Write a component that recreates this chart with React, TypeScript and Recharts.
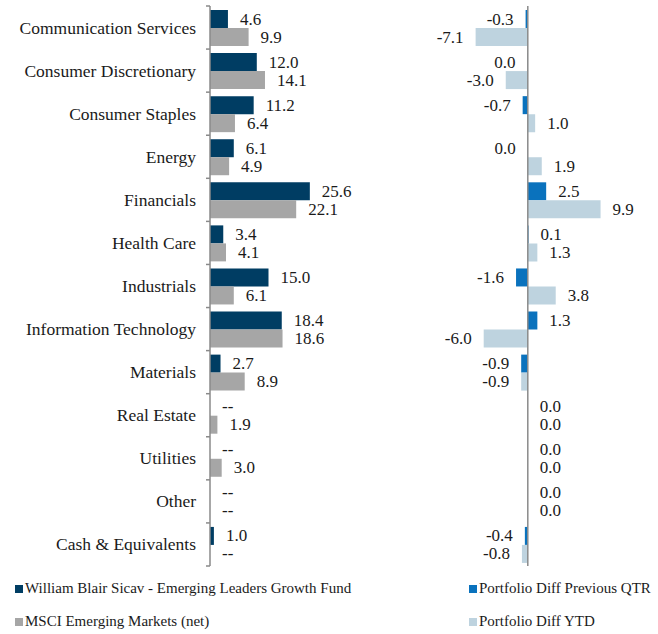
import React from 'react';
import { BarChart, Bar, XAxis, YAxis, LabelList, ReferenceLine } from 'recharts';

const categories = [
  'Communication Services',
  'Consumer Discretionary',
  'Consumer Staples',
  'Energy',
  'Financials',
  'Health Care',
  'Industrials',
  'Information Technology',
  'Materials',
  'Real Estate',
  'Utilities',
  'Other',
  'Cash & Equivalents',
];

// sector weights (%)
const fundWeights: (number | null)[] = [4.6, 12.0, 11.2, 6.1, 25.6, 3.4, 15.0, 18.4, 2.7, null, null, null, 1.0];
const indexWeights: (number | null)[] = [9.9, 14.1, 6.4, 4.9, 22.1, 4.1, 6.1, 18.6, 8.9, 1.9, 3.0, null, null];

// portfolio differences (tiny negatives print as 0.0 on the left side)
const diffQtr = [-0.3, -0.04, -0.7, -0.02, 2.5, 0.1, -1.6, 1.3, -0.9, 0.0, 0.0, 0.0, -0.4];
const diffYtd = [-7.1, -3.0, 1.0, 1.9, 9.9, 1.3, 3.8, -6.0, -0.9, 0.0, 0.0, 0.0, -0.8];

const seriesNames = [
  'William Blair Sicav - Emerging Leaders Growth Fund',
  'MSCI Emerging Markets (net)',
  'Portfolio Diff Previous QTR',
  'Portfolio Diff YTD',
];

const FONT = '"Liberation Serif", "Times New Roman", serif';
const TEXT = '#1a1a1a';
const AXIS = '#8a8a8a';
const NAVY = '#003d63';
const GREY = '#a6a6a6';
const BLUE = '#0a72bd';
const PALE = '#bed3df';

const CHART_H = 580;
const M_TOP = 6;
const M_BOTTOM = 14;
const BAND = (CHART_H - M_TOP - M_BOTTOM) / categories.length;

const LEFT_W = 400;
const LEFT_AXIS = 210;
const LEFT_RIGHT_M = 73;

const RIGHT_W = 258;
const RIGHT_LEFT_M = 69;
const RIGHT_RIGHT_M = 42;
const DIFF_MIN = -8;
const DIFF_MAX = 12;
const ZERO_OFFSET = ((RIGHT_W - RIGHT_LEFT_M - RIGHT_RIGHT_M) * (0 - DIFF_MIN)) / (DIFF_MAX - DIFF_MIN);

const fmt = (v: number) => (Math.abs(v) < 0.05 ? '0.0' : v.toFixed(1));

const leftRows = categories.map((name, i) => ({
  name,
  fund: fundWeights[i] ?? 0,
  fundLabel: fundWeights[i] == null ? '--' : fmt(fundWeights[i] as number),
  index: indexWeights[i] ?? 0,
  indexLabel: indexWeights[i] == null ? '--' : fmt(indexWeights[i] as number),
}));

const rightRows = categories.map((name, i) => ({
  name,
  qtr: diffQtr[i],
  ytd: diffYtd[i],
}));

const CategoryTick = (props: any) => {
  const { x, y, payload, index } = props;
  const top = y - BAND / 2;
  const bottom = y + BAND / 2;
  return (
    <g>
      <text x={x - 14} y={y} textAnchor="end" dominantBaseline="central" fontFamily={FONT} fontSize={17.5} fill={TEXT}>
        {payload.value}
      </text>
      <line x1={x - 4} x2={x} y1={top} y2={top} stroke={AXIS} strokeWidth={1.5} />
      {index === categories.length - 1 && (
        <line x1={x - 4} x2={x} y1={bottom} y2={bottom} stroke={AXIS} strokeWidth={1.5} />
      )}
    </g>
  );
};

const DiffTick = (props: any) => {
  const { x, y, index } = props;
  const zx = x + ZERO_OFFSET;
  const top = y - BAND / 2;
  const bottom = y + BAND / 2;
  return (
    <g>
      <line x1={zx - 4} x2={zx} y1={top} y2={top} stroke={AXIS} strokeWidth={1.5} />
      {index === categories.length - 1 && (
        <line x1={zx - 4} x2={zx} y1={bottom} y2={bottom} stroke={AXIS} strokeWidth={1.5} />
      )}
    </g>
  );
};

const WeightLabel = (props: any) => {
  const { x, y, width, height, value } = props;
  return (
    <text x={x + width + 12} y={y + height / 2} dominantBaseline="central" fontFamily={FONT} fontSize={17} fill={TEXT}>
      {value}
    </text>
  );
};

const DiffLabel = (props: any) => {
  const { x, y, width, height, value } = props;
  const v = Number(value);
  const lo = Math.min(x, x + width);
  const hi = Math.max(x, x + width);
  const neg = v < 0;
  return (
    <text
      x={neg ? lo - 12 : hi + 12}
      y={y + height / 2}
      textAnchor={neg ? 'end' : 'start'}
      dominantBaseline="central"
      fontFamily={FONT}
      fontSize={17}
      fill={TEXT}
    >
      {fmt(v)}
    </text>
  );
};

const LegendItem = ({ color, label, left, top }: { color: string; label: string; left: number; top: number }) => (
  <div style={{ position: 'absolute', left, top, display: 'flex', alignItems: 'center', fontFamily: FONT, fontSize: 15, color: TEXT, whiteSpace: 'nowrap' }}>
    <span style={{ display: 'inline-block', width: 8, height: 8, background: color, marginRight: 2 }} />
    {label}
  </div>
);

export default function App() {
  return (
    <div style={{ position: 'absolute', left: 0, top: 0, width: 658, height: 634, background: '#fff', overflow: 'hidden' }}>
      <div style={{ position: 'absolute', left: 0, top: 0 }}>
        <BarChart
          width={LEFT_W}
          height={CHART_H}
          data={leftRows}
          layout="vertical"
          margin={{ top: M_TOP, right: LEFT_RIGHT_M, bottom: M_BOTTOM, left: 0 }}
          barCategoryGap={4}
          barGap={0}
        >
          <XAxis type="number" domain={[0, 30]} hide />
          <YAxis
            type="category"
            dataKey="name"
            width={LEFT_AXIS}
            tickSize={0}
            tickMargin={0}
            tickLine={false}
            axisLine={{ stroke: AXIS, strokeWidth: 1.5 }}
            tick={<CategoryTick />}
            interval={0}
          />
          <Bar dataKey="fund" fill={NAVY} minPointSize={0.01} isAnimationActive={false}>
            <LabelList dataKey="fundLabel" content={<WeightLabel />} />
          </Bar>
          <Bar dataKey="index" fill={GREY} minPointSize={0.01} isAnimationActive={false}>
            <LabelList dataKey="indexLabel" content={<WeightLabel />} />
          </Bar>
        </BarChart>
      </div>
      <div style={{ position: 'absolute', left: LEFT_W, top: 0 }}>
        <BarChart
          width={RIGHT_W}
          height={CHART_H}
          data={rightRows}
          layout="vertical"
          margin={{ top: M_TOP, right: RIGHT_RIGHT_M, bottom: M_BOTTOM, left: RIGHT_LEFT_M }}
          barCategoryGap={4}
          barGap={0}
        >
          <XAxis type="number" domain={[DIFF_MIN, DIFF_MAX]} hide allowDataOverflow />
          <YAxis
            type="category"
            dataKey="name"
            width={0}
            tickSize={0}
            tickMargin={0}
            tickLine={false}
            axisLine={false}
            tick={<DiffTick />}
            interval={0}
          />
          <ReferenceLine x={0} stroke={AXIS} strokeWidth={1.5} />
          <Bar dataKey="qtr" fill={BLUE} minPointSize={0.01} isAnimationActive={false}>
            <LabelList dataKey="qtr" content={<DiffLabel />} />
          </Bar>
          <Bar dataKey="ytd" fill={PALE} minPointSize={0.01} isAnimationActive={false}>
            <LabelList dataKey="ytd" content={<DiffLabel />} />
          </Bar>
        </BarChart>
      </div>
      <LegendItem color={NAVY} label={seriesNames[0]} left={15} top={580} />
      <LegendItem color={GREY} label={seriesNames[1]} left={15} top={613} />
      <LegendItem color={BLUE} label={seriesNames[2]} left={469} top={580} />
      <LegendItem color={PALE} label={seriesNames[3]} left={469} top={613} />
    </div>
  );
}
